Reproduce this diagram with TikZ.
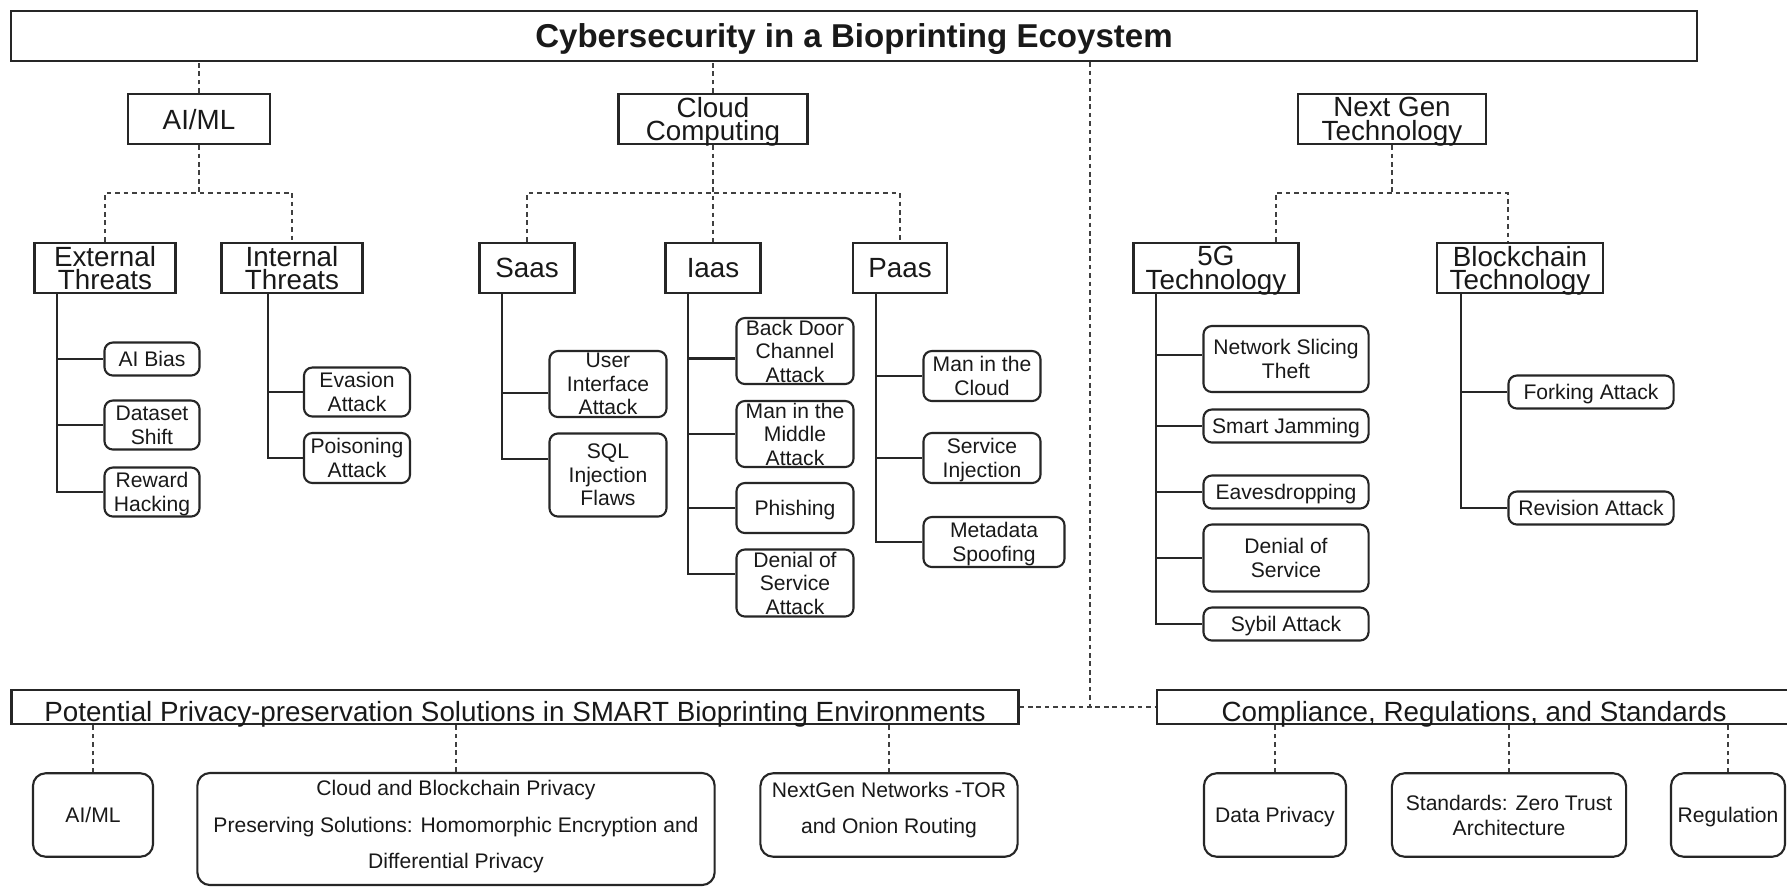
\documentclass[tikz,border=0pt]{standalone}
\usepackage{fontspec}
\setmainfont{Liberation Sans}
\usepackage{tikz}
\usetikzlibrary{calc}
\tikzstyle{headbox} = [draw=black!85, line width=0.7pt, inner sep=0pt, text depth=0pt, font=\bfseries\fontsize{9.4}{11}\selectfont]
\tikzstyle{groupbox} = [draw=black!85, line width=0.65pt, inner sep=0pt, text depth=0pt, align=center, minimum height=0.5cm, font=\fontsize{7.9}{6.7}\selectfont]
\tikzstyle{leafbox} = [draw=black!85, fill=white, line width=0.6pt, rounded corners=2.4pt, inner sep=0pt, text depth=0pt, align=center, font=\fontsize{6}{6.7}\selectfont]
\tikzstyle{solbox} = [draw=black!85, line width=0.6pt, rounded corners=3.6pt, inner sep=0pt, text depth=0pt, align=center, minimum height=0.834cm, font=\fontsize{6}{10.3}\selectfont]
\tikzstyle{bandbox} = [draw=black!85, line width=0.7pt, inner sep=0pt, minimum height=0.34cm]
\tikzstyle{bandtext} = [inner sep=0pt, font=\fontsize{7.9}{9}\selectfont]
\tikzstyle{dashlink} = [black!75, line width=0.6pt, dash pattern=on 1.3pt off 1.1pt]
\tikzstyle{treeline} = [black!85, line width=0.6pt]

\begin{document}
\begin{tikzpicture}[x=0.01cm, y=-0.01cm, text=black!90]
        \fill[white] (0,0) rectangle (1787,887);
        \useasboundingbox (0,0) rectangle (1787,887);

        % Top level
        \node[headbox, minimum width=16.85cm, minimum height=0.50cm] (title) at (854,36) {Cybersecurity in a Bioprinting Ecoystem};
        \coordinate (split) at (0,193);

        \node[groupbox, minimum width=1.42cm] (aiml) at (199,119) {AI/ML};
        \node[groupbox, minimum width=1.89cm] (cloud) at (713,119) {Cloud\\Computing};
        \node[groupbox, minimum width=1.88cm] (nextgen) at (1392,119) {Next Gen\\Technology};

        \node[groupbox, minimum width=1.41cm] (external) at (105,268) {External\\Threats};
        \node[groupbox, minimum width=1.41cm] (internal) at (292,268) {Internal\\Threats};
        \node[groupbox, minimum width=0.95cm] (saas) at (527,268) {Saas};
        \node[groupbox, minimum width=0.95cm] (iaas) at (713,268) {Iaas};
        \node[groupbox, minimum width=0.94cm] (paas) at (900,268) {Paas};
        \node[groupbox, minimum width=1.65cm] (fiveg) at (1216,268) {5G\\Technology};
        \node[groupbox, minimum width=1.66cm] (chain) at (1520,268) {Blockchain\\Technology};

        \draw[dashlink] (aiml.north) -- (aiml.north |- title.south);
        \draw[dashlink] (cloud.north) -- (cloud.north |- title.south);

        \draw[dashlink] (aiml.south) -- (aiml.south |- split);
        \draw[dashlink] (external.north) |- (aiml.south |- split) -| (internal.north);
        \draw[dashlink] (cloud.south) -- (iaas.north);
        \draw[dashlink] (saas.north) |- (cloud.south |- split) -| (paas.north);
        \draw[dashlink] (nextgen.south) -- (nextgen.south |- split);
        \draw[dashlink] ([xshift=-0.24cm]fiveg.north east) |- (nextgen.south |- split) -| ([xshift=0.72cm]chain.north west);

        % AI/ML threats
        \node[leafbox, minimum width=0.95cm, minimum height=0.33cm] (aibias) at (152,359) {AI Bias};
        \node[leafbox, minimum width=0.95cm, minimum height=0.49cm] (shift) at (152,425) {Dataset\\Shift};
        \node[leafbox, minimum width=0.95cm, minimum height=0.49cm] (reward) at (152,492) {Reward\\Hacking};
        \node[leafbox, minimum width=1.06cm, minimum height=0.49cm] (evasion) at (357,392) {Evasion\\Attack};
        \node[leafbox, minimum width=1.06cm, minimum height=0.50cm] (poison) at (357,458) {Poisoning\\Attack};

        \foreach \leaf in {aibias,shift,reward}
          \draw[treeline] ([xshift=0.24cm]external.south west) |- (\leaf.west);
        \foreach \leaf in {evasion,poison}
          \draw[treeline] ([xshift=0.476cm]internal.south west) |- (\leaf.west);

        % Cloud attacks
        \node[leafbox, minimum width=1.17cm, minimum height=0.66cm] (uiattack) at (608,384) {User\\Interface\\Attack};
        \node[leafbox, minimum width=1.17cm, minimum height=0.83cm] (sqlflaws) at (608,475) {SQL\\Injection\\Flaws};
        \node[leafbox, minimum width=1.17cm, minimum height=0.66cm] (backdoor) at (795,351) {Back Door\\Channel\\Attack};
        \node[leafbox, minimum width=1.17cm, minimum height=0.66cm] (mitm) at (795,434) {Man in the\\Middle\\Attack};
        \node[leafbox, minimum width=1.17cm, minimum height=0.50cm] (phishing) at (795,508) {Phishing};
        \node[leafbox, minimum width=1.17cm, minimum height=0.67cm] (dosattack) at (795,583) {Denial of\\Service\\Attack};
        \node[leafbox, minimum width=1.17cm, minimum height=0.50cm] (mitc) at (982,376) {Man in the\\Cloud};
        \node[leafbox, minimum width=1.17cm, minimum height=0.50cm] (servinj) at (982,458) {Service\\Injection};
        \node[leafbox, minimum width=1.41cm, minimum height=0.50cm] (metaspoof) at (994,542) {Metadata\\Spoofing};

        \foreach \leaf/\dy in {uiattack/-0.086,sqlflaws/0.164}
          \draw[treeline] ([xshift=0.24cm]saas.south west) |- ([yshift=\dy cm]\leaf.west);
        \foreach \leaf/\dy in {backdoor/-0.075,mitm/0,phishing/0,dosattack/0.09}
          \draw[treeline] ([xshift=0.24cm]iaas.south west) |- ([yshift=\dy cm]\leaf.west);
        \foreach \leaf in {mitc,servinj,metaspoof}
          \draw[treeline] ([xshift=0.24cm]paas.south west) |- (\leaf.west);

        % Next gen attacks
        \node[leafbox, minimum width=1.65cm, minimum height=0.66cm] (slicing) at (1286,359) {Network Slicing\\Theft};
        \node[leafbox, minimum width=1.65cm, minimum height=0.33cm] (jamming) at (1286,426) {Smart Jamming};
        \node[leafbox, minimum width=1.65cm, minimum height=0.33cm] (eaves) at (1286,492) {Eavesdropping};
        \node[leafbox, minimum width=1.65cm, minimum height=0.67cm] (dosfiveg) at (1286,558) {Denial of\\Service};
        \node[leafbox, minimum width=1.65cm, minimum height=0.33cm] (sybil) at (1286,624) {Sybil Attack};
        \node[leafbox, minimum width=1.65cm, minimum height=0.33cm] (forking) at (1591,392) {Forking Attack};
        \node[leafbox, minimum width=1.65cm, minimum height=0.33cm] (revision) at (1591,508) {Revision Attack};

        \foreach \leaf/\dy in {slicing/0.04,jamming/0,eaves/0,dosfiveg/0,sybil/0}
          \draw[treeline] ([xshift=0.24cm]fiveg.south west) |- ([yshift=\dy cm]\leaf.west);
        \foreach \leaf in {forking,revision}
          \draw[treeline] ([xshift=0.25cm]chain.south west) |- (\leaf.west);

        % Solutions and compliance
        \node[bandbox, minimum width=10.06cm] (privacy) at (515,707) {};
        \node[bandtext] (privacytext) at ([yshift=-0.07cm]privacy.center) {Potential Privacy-preservation Solutions in SMART Bioprinting Environments};
        \node[bandbox, minimum width=6.34cm] (compliance) at (1474,707) {};
        \node[bandtext] (compliancetext) at ([yshift=-0.07cm]compliance.center) {Compliance, Regulations, and Standards};

        \coordinate (hub) at (1090,707);
        \draw[dashlink] (hub |- title.south) -- (hub);
        \draw[dashlink] (privacy.east) -- (compliance.west);

        \node[solbox, minimum width=1.20cm] (solaiml) at (93,815) {AI/ML};
        \node[solbox, minimum width=5.17cm, minimum height=1.12cm, text depth=0.09cm] (solcloud) at (456,829) {Cloud and Blockchain Privacy\\Preserving Solutions: Homomorphic Encryption and\\Differential Privacy};
        \node[solbox, minimum width=2.57cm, text depth=0.14cm] (solnet) at (889,815) {NextGen Networks -TOR\\and Onion Routing};
        \node[solbox, minimum width=1.42cm] (datapriv) at (1275,815) {Data Privacy};
        \node[solbox, minimum width=2.34cm, font=\fontsize{6}{7.1}\selectfont] (standards) at (1509,815) {Standards: Zero Trust\\Architecture};
        \node[solbox, minimum width=1.14cm] (regulation) at (1728,815) {Regulation};

        \foreach \sol in {solaiml,solcloud,solnet}
          \draw[dashlink] (\sol.north) -- (\sol.north |- privacy.south);
        \foreach \sol in {datapriv,standards,regulation}
          \draw[dashlink] (\sol.north) -- (\sol.north |- compliance.south);
\end{tikzpicture}
\end{document}
